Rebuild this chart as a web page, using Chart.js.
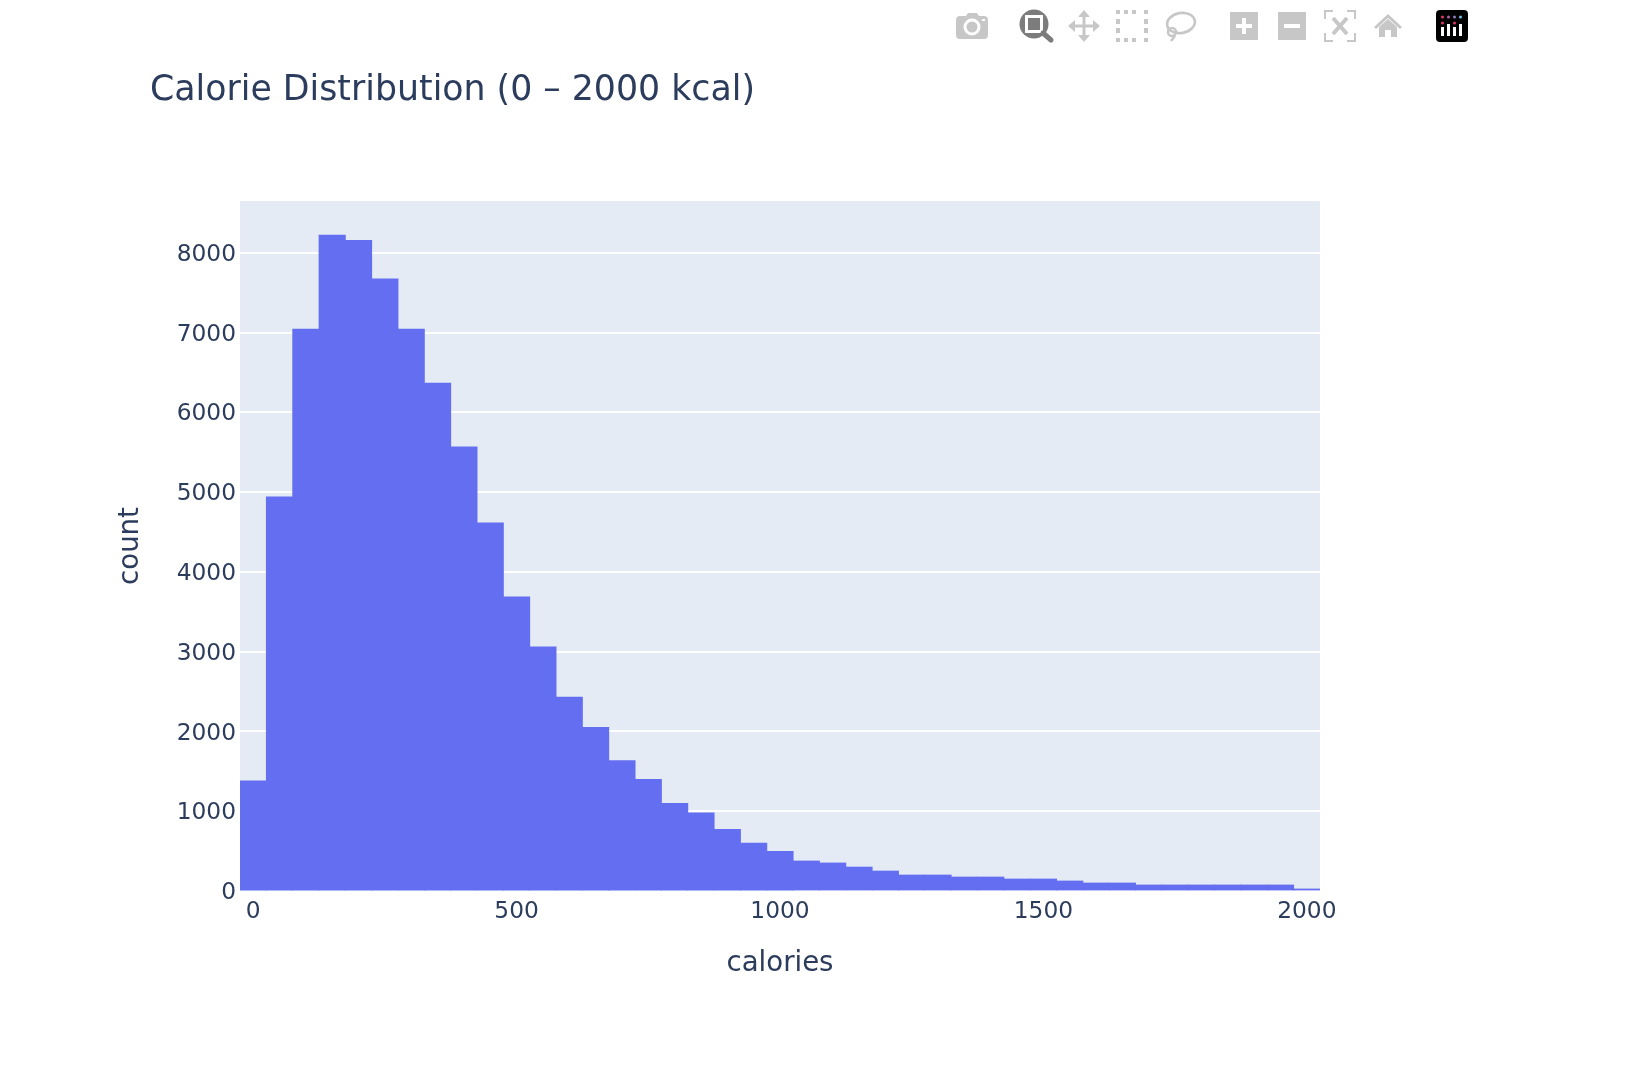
<!DOCTYPE html>
<html>
<head>
<meta charset="utf-8">
<title>Calorie Distribution</title>
<script src="https://cdn.jsdelivr.net/npm/chart.js@4"></script>
<style>
html,body{margin:0;padding:0;background:#fff;}
#wrap{position:relative;width:1634px;height:1074px;overflow:hidden;}
canvas{position:absolute;left:0;top:0;}
#bar{position:absolute;left:0;top:0;}
</style>
</head>
<body>
<div id="wrap">
<canvas id="c" width="1634" height="1074"></canvas>
<svg id="bar" width="1634" height="60" viewBox="0 0 1634 60">
  <g fill="#c7c7c7">
    <path d="M956 20q0-4 4-4h6l2-3h9l2 3h5q4 0 4 4v15q0 4-4 4h-24q-4 0-4-4z"/>
    <circle cx="972" cy="27" r="8.5" fill="#fff"/><circle cx="972" cy="27" r="5.5"/><rect x="982" y="19" width="3" height="2" fill="#fff"/>
  </g>
  <g>
    <circle cx="1034" cy="24" r="14.5" fill="#7c7c7c"/>
    <rect x="1025" y="15" width="18" height="18" fill="#fff"/>
    <rect x="1028" y="18" width="12" height="12" fill="#7c7c7c"/>
    <path d="M1043 33l8 7" stroke="#7c7c7c" stroke-width="5" stroke-linecap="round"/>
  </g>
  <g fill="#c7c7c7">
    <rect x="1082.500" y="15" width="3" height="22"/><rect x="1073" y="24.500" width="22" height="3"/>
    <path d="M1084 10l6 7h-12zM1084 42l6-7h-12zM1068 26l7-6v12zM1100 26l-7-6v12z"/>
  </g>
  <g fill="#c7c7c7">
    <rect x="1116" y="10" width="4" height="4"/><rect x="1124" y="10" width="4" height="4"/><rect x="1132" y="10" width="4" height="4"/><rect x="1144" y="10" width="4" height="4"/>
    <rect x="1116" y="19" width="4" height="5"/><rect x="1144" y="19" width="4" height="5"/>
    <rect x="1116" y="28" width="4" height="5"/><rect x="1144" y="28" width="4" height="5"/>
    <rect x="1116" y="38" width="4" height="4"/><rect x="1124" y="38" width="4" height="4"/><rect x="1132" y="38" width="4" height="4"/><rect x="1144" y="38" width="4" height="4"/>
  </g>
  <g fill="none" stroke="#c7c7c7" stroke-width="2.6">
    <ellipse cx="1181" cy="23" rx="14" ry="10" transform="rotate(-10 1181 23)"/>
    <circle cx="1172" cy="32" r="4"/><path d="M1175 36l-4 5"/>
  </g>
  <g>
    <rect x="1230" y="12" width="28" height="28" fill="#c7c7c7"/><rect x="1236" y="24" width="16" height="4" fill="#fff"/><rect x="1242" y="18" width="4" height="16" fill="#fff"/>
    <rect x="1278" y="12" width="28" height="28" fill="#c7c7c7"/><rect x="1284" y="24" width="16" height="4" fill="#fff"/>
  </g>
  <g fill="none" stroke="#c7c7c7" stroke-width="2">
    <path d="M1325 19v-8h8M1347 11h8v8M1355 33v8h-8M1333 41h-8v-8"/>
    <path d="M1333 18l14 16M1347 18l-14 16" stroke-width="4"/>
  </g>
  <path fill="#c7c7c7" d="M1388 14l14 13-2 2-12-11-12 11-2-2zM1379 27l9-8 9 8v10h-6v-7h-6v7h-6z"/>
  <rect x="1436" y="10" width="32" height="32" rx="4" fill="#000"/>
  <g fill="#fff">
    <rect x="1441" y="27" width="3" height="9"/><rect x="1447" y="24" width="3" height="12"/><rect x="1453" y="27" width="3" height="9"/><rect x="1459" y="24" width="3" height="12"/>
  </g>
  <g>
    <circle cx="1442.500" cy="17" r="1.500" fill="#e5346d"/><circle cx="1448.500" cy="17" r="1.500" fill="#b05ca8"/><circle cx="1454.500" cy="17" r="1.500" fill="#8c7ac4"/><circle cx="1460.500" cy="17" r="1.500" fill="#6ec6e6"/>
    <circle cx="1442.500" cy="23" r="1.500" fill="#e5346d"/><circle cx="1454.500" cy="23" r="1.500" fill="#e5346d"/>
  </g>
</svg>
</div>
<script>
const binCenters = [0,50,100,150,200,250,300,350,400,450,500,550,600,650,700,750,800,850,900,950,1000,1050,1100,1150,1200,1250,1300,1350,1400,1450,1500,1550,1600,1650,1700,1750,1800,1850,1900,1950,2000];
const counts = [1380,4940,7045,8222,8156,7673,7045,6366,5568,4614,3686,3059,2431,2052,1634,1399,1098,980,771,601,497,376,351,300,250,200,200,175,175,150,150,125,100,100,75,75,75,75,75,75,25];
const xTickValues = [0,500,1000,1500,2000];
const yTickValues = [0,1000,2000,3000,4000,5000,6000,7000,8000];
const titleText = "Calorie Distribution (0 – 2000 kcal)";
const xAxisTitle = "calories";
const yAxisTitle = "count";
const seriesName = "count";

const textColor = "#2c3c5c";
const family = "'DejaVu Sans'";

const plotBg = {
  id: "plotBg",
  beforeDraw(chart) {
    const a = chart.chartArea, ctx = chart.ctx;
    ctx.save();
    ctx.fillStyle = "#fff";
    ctx.fillRect(0, 0, chart.width, chart.height);
    ctx.fillStyle = "#E5EBF5";
    ctx.fillRect(a.left, a.top, a.right - a.left, a.bottom - a.top);
    ctx.restore();
  }
};

new Chart(document.getElementById("c"), {
  type: "bar",
  data: {
    labels: binCenters,
    datasets: [{
      label: seriesName,
      data: counts,
      backgroundColor: "#646EF1",
      borderWidth: 0,
      inflateAmount: 0.4,
      barPercentage: 1,
      categoryPercentage: 1
    }]
  },
  plugins: [plotBg],
  options: {
    responsive: false,
    animation: false,
    devicePixelRatio: 1,
    layout: { padding: { left: 150, right: 314, top: 0, bottom: 0 } },
    plugins: {
      legend: { display: false },
      tooltip: { enabled: false },
      title: {
        display: true,
        text: titleText,
        align: "start",
        color: textColor,
        font: { family, size: 34.75, weight: "normal", lineHeight: 1.2 },
        padding: { top: 70.5, bottom: 88.8 }
      }
    },
    scales: {
      x: {
        type: "category",
        offset: true,
        afterFit(s) { s.height = 183; },
        grid: { display: false, drawTicks: false },
        border: { display: false },
        title: {
          display: true, text: xAxisTitle, color: textColor,
          font: { family, size: 27.6, weight: "normal", lineHeight: 1.2 },
          padding: { top: 0, bottom: 94 }
        },
        ticks: {
          autoSkip: false, maxRotation: 0, minRotation: 0, padding: 7,
          color: textColor,
          font: { family, size: 23.3 },
          callback(value) {
            const v = binCenters[value];
            return xTickValues.includes(v) ? String(v) : "";
          }
        }
      },
      y: {
        type: "linear",
        min: 0, max: 8650,
        afterFit(s) { s.width = 90; },
        afterBuildTicks(s) { s.ticks = yTickValues.map(v => ({ value: v })); },
        grid: { color: "#ffffff", lineWidth: 2, drawTicks: false },
        border: { display: false },
        title: {
          display: true, text: yAxisTitle, color: textColor,
          font: { family, size: 27.6, weight: "normal", lineHeight: 1.2 },
          padding: { top: -36, bottom: 0 }
        },
        ticks: {
          padding: 4,
          labelOffset: 2,
          color: textColor,
          font: { family, size: 23.3 },
          callback(v) { return String(v); }
        }
      }
    }
  }
});
</script>
</body>
</html>
